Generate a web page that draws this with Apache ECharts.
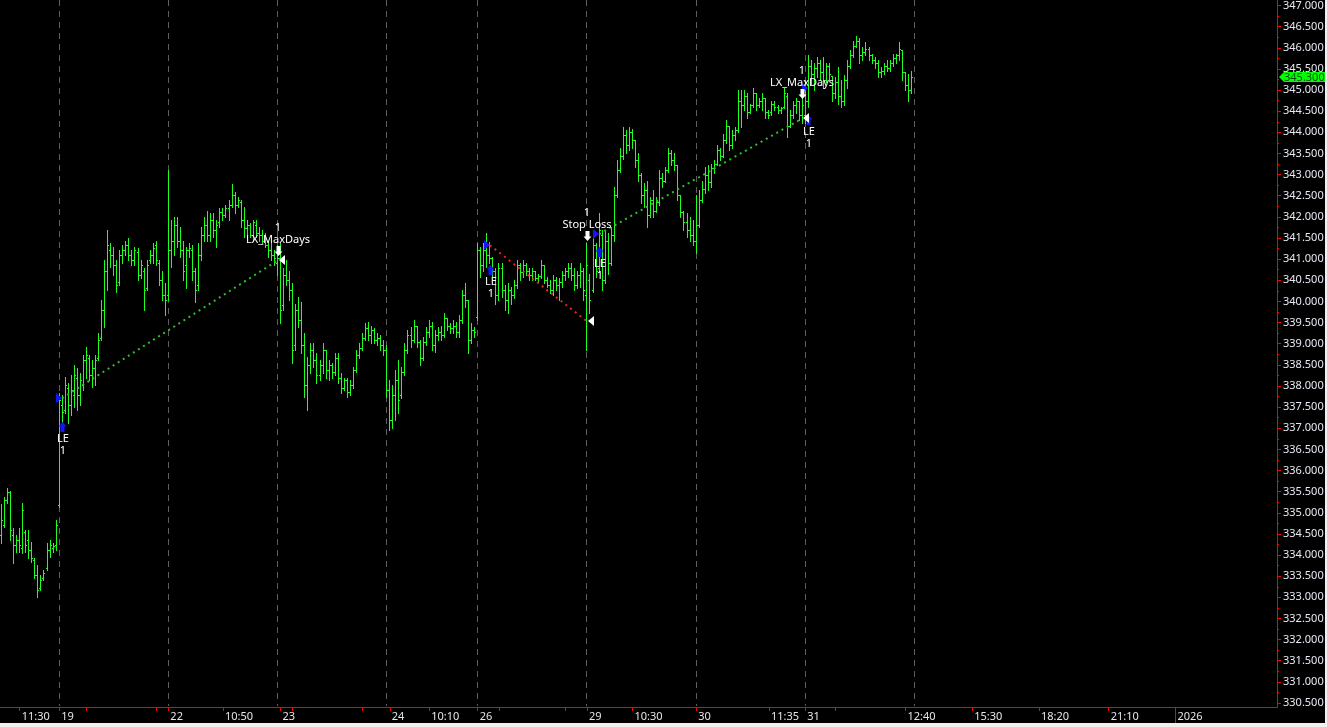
<!DOCTYPE html>
<html><head><meta charset="utf-8">
<script src="https://cdn.jsdelivr.net/npm/echarts@6/dist/echarts.min.js"></script>
<style>html,body{margin:0;padding:0;background:#000;overflow:hidden}#c{width:1327px;height:727px}</style>
</head><body><div id="c"></div>
<script>
// ---- OHLC bars, one small array per session: [open, high, low, close] ----
const pre19 = [
[334.47,335.20,334.28,334.82],[334.71,335.37,334.66,335.30],[335.30,335.58,335.23,335.49],[335.49,335.51,334.35,334.59],
[334.47,334.64,333.81,334.24],[334.24,334.47,334.07,334.35],[334.35,334.64,334.07,334.24],[334.17,335.23,334.05,335.06],
[334.54,334.59,334.07,334.24],[334.35,334.59,333.93,334.12],[334.12,334.31,333.83,333.93],[333.88,333.93,333.45,333.52],
[333.52,333.76,333.00,333.17],[333.22,333.52,333.17,333.41],[333.45,333.64,333.41,333.57],[333.69,334.28,333.64,334.12],
[334.12,334.35,333.95,334.24],[334.17,334.28,334.07,334.21],[334.24,334.82,334.12,334.71]];
const d19 = [
[335.18,337.83,335.13,337.66],[337.54,337.78,337.07,337.38],[337.43,338.21,337.35,338.02],[337.95,338.06,337.12,337.54],
[337.54,338.25,337.31,337.90],[337.78,338.49,337.50,338.25],[338.18,338.42,337.43,337.78],[337.78,338.30,337.54,338.14],
[338.02,338.73,337.90,338.61],[338.61,338.92,338.20,338.73],[338.65,338.73,338.14,338.25],[338.25,338.61,337.97,338.42],
[338.42,338.73,338.02,338.61],[338.65,339.25,338.61,339.08],[339.13,340.03,339.08,339.79],[339.79,340.97,339.39,340.73],
[340.73,341.68,340.26,341.33],[341.21,341.37,340.81,341.09],[341.09,341.28,340.62,340.85],[340.85,340.97,340.22,340.38],
[340.45,341.21,340.38,341.09],[341.09,341.33,340.92,341.21],[341.21,341.44,341.09,341.33],[341.33,341.49,340.97,341.09],
[341.09,341.21,340.85,340.97],[340.97,341.28,340.85,341.21],[341.16,341.26,340.50,340.62],[340.62,340.97,340.55,340.85],
[340.73,340.80,339.79,340.26],[340.31,340.97,340.26,340.85],[340.97,341.21,340.92,341.09],[341.09,341.37,340.92,341.26],
[341.33,341.44,340.85,340.97],[340.92,340.97,340.38,340.50],[340.50,340.73,340.03,340.14],[340.14,340.43,339.67,340.03]];
const d22 = [
[340.14,343.10,340.03,341.21],[341.21,341.92,340.81,341.44],[341.44,341.99,341.09,341.80],[341.80,341.99,341.28,341.44],
[341.44,341.75,341.04,341.21],[341.21,341.44,340.50,340.73],[340.85,341.28,340.31,341.21],[341.21,341.37,341.04,341.26],
[341.21,341.33,340.50,340.73],[340.73,340.80,339.98,340.26],[340.38,341.37,340.26,341.09],[341.09,341.75,340.97,341.56],
[341.56,341.99,341.44,341.80],[341.80,342.15,341.44,341.56],[341.56,342.08,341.44,341.92],[341.92,342.08,341.52,341.68],
[341.68,341.92,341.28,341.80],[341.87,342.20,341.75,342.11],[342.11,342.20,341.92,342.04],[342.04,342.27,341.99,342.20],
[342.20,342.39,341.92,342.27],[342.27,342.77,342.23,342.51],[342.51,342.58,342.08,342.27],[342.27,342.46,342.23,342.39],
[342.34,342.39,341.75,341.92],[341.92,342.23,341.52,341.73],[341.73,341.92,341.52,341.80],[341.80,341.85,341.52,341.56],
[341.56,341.92,341.44,341.87],[341.80,341.92,341.52,341.63],[341.63,341.75,341.44,341.56],[341.56,341.68,341.37,341.44],
[341.44,341.61,341.28,341.33],[341.33,341.44,341.04,341.21],[341.21,341.37,340.97,341.09],[341.09,341.21,340.85,341.02]];
const d23 = [
[340.92,341.33,340.62,341.02],[341.02,341.37,339.48,339.79],[339.91,340.80,339.79,340.62],[340.62,340.97,340.38,340.50],
[340.50,340.73,340.03,340.26],[340.26,340.43,338.54,338.84],[338.96,339.95,338.84,339.79],[339.79,340.10,339.39,339.55],
[339.55,339.98,338.77,338.96],[338.96,339.25,337.73,338.02],[338.02,338.68,337.43,338.49],[338.49,339.01,338.30,338.84],
[338.84,339.01,338.44,338.61],[338.61,338.77,338.06,338.25],[338.25,338.61,338.14,338.49],[338.49,339.01,338.30,338.84],
[338.84,338.84,338.20,338.37],[338.37,338.61,338.14,338.49],[338.49,338.54,338.20,338.33],[338.33,338.77,338.25,338.65],
[338.65,338.77,338.06,338.18],[338.18,338.30,337.83,337.95],[337.95,338.20,337.90,338.14],[338.14,338.18,337.73,337.85],
[337.85,338.14,337.78,338.02],[338.02,338.44,337.95,338.37],[338.37,338.84,338.33,338.73],[338.73,339.01,338.65,338.89],
[338.89,339.25,338.84,339.13],[339.13,339.48,339.08,339.36],[339.36,339.51,339.08,339.20],[339.20,339.43,339.01,339.32],
[339.32,339.36,339.01,339.08],[339.08,339.25,338.96,339.13],[339.13,339.20,338.84,338.96],[338.96,339.08,338.73,338.84]];
const d24 = [
[338.84,338.96,337.73,337.90],[337.90,338.14,336.95,337.19],[337.19,338.02,337.00,337.78],[337.78,338.37,337.19,338.14],
[338.14,338.61,337.35,337.66],[337.78,338.44,337.71,338.33],[338.33,339.01,338.25,338.84],[338.84,339.32,338.77,339.20],
[339.20,339.39,338.92,339.08],[339.08,339.55,339.03,339.43],[339.43,339.43,338.92,339.03],[339.03,339.08,338.49,338.65],
[338.65,339.15,338.61,339.03],[339.03,339.39,338.96,339.27],[339.27,339.55,339.15,339.43],[339.43,339.51,338.84,338.96],
[338.96,339.32,338.80,339.20],[339.20,339.39,339.08,339.27],[339.27,339.43,339.08,339.20],[339.20,339.72,339.15,339.60],
[339.60,339.60,339.32,339.43],[339.43,339.48,339.25,339.36],[339.36,339.55,339.25,339.43],[339.43,339.51,339.15,339.27],
[339.27,339.67,339.15,339.55],[339.55,340.26,339.48,340.14],[340.14,340.43,339.86,340.03],[340.03,340.03,338.77,339.08],
[339.08,339.48,339.01,339.32],[339.32,339.39,339.15,339.27]];
const d26 = [
[339.62,341.37,339.55,341.21],[341.21,341.28,340.57,340.85],[340.85,341.37,340.73,341.21],[341.21,341.61,340.81,341.09],
[341.09,341.40,340.90,341.02],[341.02,341.04,340.57,340.73],[340.73,340.80,339.95,340.14],[340.14,340.90,340.03,340.78],
[340.78,340.90,340.10,340.26],[340.26,340.38,339.79,340.03],[340.03,340.43,339.72,340.26],[340.26,340.33,339.95,340.14],
[340.14,340.50,340.07,340.38],[340.38,340.97,340.31,340.85],[340.85,340.90,340.50,340.69],[340.69,340.97,340.57,340.85],
[340.85,340.90,340.62,340.73],[340.73,340.80,340.50,340.62],[340.62,340.80,340.50,340.73],[340.73,340.73,340.50,340.55],
[340.55,340.66,340.45,340.59],[340.59,340.97,340.55,340.85],[340.85,340.85,340.43,340.50],[340.50,340.57,340.33,340.38],
[340.38,340.50,340.19,340.26],[340.26,340.62,340.14,340.50],[340.50,340.57,340.26,340.38],[340.38,340.55,340.03,340.45],
[340.45,340.73,340.33,340.62],[340.62,340.80,340.50,340.73],[340.73,340.90,340.57,340.78],[340.78,340.90,340.50,340.62],
[340.62,340.80,340.26,340.38],[340.38,340.73,340.31,340.62],[340.62,340.92,340.33,340.73],[340.73,340.80,340.03,340.26]];
const d29 = [
[340.14,341.37,338.84,340.85],[340.50,340.66,339.72,340.03],[340.26,341.61,340.22,341.33],[341.33,341.37,340.57,340.73],
[340.78,342.08,340.69,341.68],[341.56,341.68,340.26,340.50],[340.50,341.68,340.43,341.44],[341.44,341.63,340.66,340.92],
[340.92,341.75,340.85,341.56],[341.56,342.70,341.44,342.51],[342.51,343.34,342.46,343.10],[343.10,343.64,343.05,343.45],
[343.45,344.12,343.38,343.93],[343.93,344.05,343.50,343.69],[343.69,344.12,343.57,344.00],[344.00,344.09,343.64,343.81],
[343.81,343.81,343.17,343.34],[343.34,343.50,342.86,342.98],[342.98,343.03,342.32,342.51],[342.51,342.79,342.23,342.63],
[342.63,342.86,341.75,342.04],[342.04,342.46,341.99,342.39],[342.39,342.63,341.99,342.15],[342.15,342.46,342.11,342.34],
[342.34,343.10,342.27,342.91],[342.91,343.03,342.70,342.86],[342.86,343.17,342.82,343.10],[343.10,343.64,343.05,343.52],
[343.52,343.57,343.22,343.34],[343.34,343.50,343.10,343.22],[343.22,343.22,342.39,342.51],[342.51,342.51,341.99,342.11],
[342.11,342.15,341.68,341.87],[341.87,342.08,341.52,341.68],[341.68,341.99,341.44,341.56],[341.56,341.92,341.33,341.44]];
const d30 = [
[341.44,342.51,341.14,341.80],[341.80,342.63,341.75,342.39],[342.39,342.86,342.34,342.67],[342.67,343.17,342.56,342.98],
[342.98,343.22,342.63,342.82],[342.82,343.26,342.70,343.15],[343.15,343.34,343.03,343.26],[343.26,343.69,343.22,343.57],
[343.57,343.64,343.34,343.45],[343.45,343.97,343.41,343.81],[343.81,344.28,343.74,344.16],[344.16,344.16,343.57,343.69],
[343.69,344.05,343.64,343.93],[343.93,344.12,343.81,344.05],[344.05,344.99,344.00,344.75],[344.75,344.99,344.12,344.64],
[344.64,344.99,344.52,344.87],[344.87,344.92,344.35,344.47],[344.47,344.68,344.45,344.64],[344.64,345.06,344.59,344.94],
[344.94,344.94,344.52,344.64],[344.64,344.82,344.59,344.75],[344.75,344.92,344.52,344.80],[344.80,344.80,344.35,344.47],
[344.47,344.52,344.35,344.42],[344.47,344.75,344.42,344.68],[344.68,344.75,344.52,344.61],[344.61,344.64,344.45,344.52],
[344.52,344.59,344.45,344.57],[344.59,345.06,344.57,344.94],[344.87,344.92,343.88,344.16],[344.16,344.52,344.12,344.40],
[344.40,344.75,344.35,344.64],[344.64,344.82,344.45,344.75],[344.75,344.75,344.28,344.40],[344.40,344.82,344.21,344.64]];
const d31 = [
[344.40,345.23,344.21,344.75],[344.75,345.82,344.59,345.58],[345.58,345.70,345.15,345.39],[345.39,345.63,344.99,345.51],
[345.51,345.77,345.30,345.65],[345.65,345.70,345.23,345.42],[345.42,345.77,345.06,345.23],[345.23,345.65,345.18,345.58],
[345.58,345.65,345.23,345.39],[345.33,345.33,344.75,344.94],[344.94,345.30,344.82,345.18],[345.18,345.54,344.68,344.87],
[344.87,345.23,344.59,344.75],[344.75,345.35,344.64,345.23],[345.23,345.70,345.06,345.58],[345.58,345.94,345.53,345.82],
[345.82,346.17,345.77,346.05],[346.05,346.29,346.01,346.17],[346.17,346.24,345.63,345.82],[345.82,346.01,345.70,345.89],
[345.89,346.13,345.82,345.98],[345.98,346.01,345.70,345.82],[345.82,345.86,345.63,345.70],[345.70,345.77,345.53,345.63],
[345.63,345.70,345.30,345.42],[345.42,345.54,345.30,345.46],[345.46,345.63,345.39,345.56],[345.56,345.70,345.46,345.51],
[345.51,345.70,345.46,345.65],[345.65,345.86,345.58,345.75],[345.75,345.86,345.63,345.82],[345.82,346.13,345.70,345.98],
[345.94,345.94,345.23,345.42],[345.42,345.42,344.99,345.11],[345.11,345.39,344.75,344.99],[344.99,345.46,344.94,345.30]];

// ---- time axis ----
const totalSlots = 421;                 // bar slots incl. empty future space
const tickIdx  = [6, 19, 55, 73, 92, 128, 141, 157, 193, 208, 229, 253, 265, 298, 320, 342, 365, 387];
const tickText = ['11:30','19','22','10:50','23','24','10:10','26','29','10:30','30','11:35','31','12:40','15:30','18:20','21:10','2026'];
const extraTickIdx = [28, 51, 96, 119, 164, 186, 275];
const sessionStartIdx = [19, 55, 91, 127, 157, 193, 229, 265, 301];
const yearIdx = 387;

// ---- trades ----
const entries = [ // [barIndex, entryPrice, arrowPrice]
  [20, 337.71, 337.14], [161, 341.33, 340.85], [197, 341.59, 341.28], [266, 345.04, 344.42]];
const exits = [   // [barIndex, exitPrice, arrowPrice]
  [91, 340.97, 341.07], [193, 339.53, 341.44], [264, 344.33, 344.78]];
const exitNames = ['LX_MaxDays', 'Stop Loss', 'LX_MaxDays'];
const tradeProfit = [1, -1, 1];
const lastPrice = 345.30;

// ---- build ----
const bars = [].concat(pre19, d19, d22, d23, d24, d26, d29, d30, d31);
const cats = [];
for (let i = 0; i < totalSlots; i++) cats.push(String(i));
const labelMap = {};
tickIdx.forEach((ix, k) => { labelMap[ix] = tickText[k]; });
const tickSet = new Set(tickIdx.concat(extraTickIdx));
const FONT = '11px "Noto Sans", "DejaVu Sans", sans-serif';

const chart = echarts.init(document.getElementById('c'), null, {renderer: 'canvas'});

const tradeLineSeries = exits.map((ex, k) => ({
  type: 'line', silent: true, z: 5, symbol: 'none', animation: false,
  data: [[entries[k][0], entries[k][1]], [ex[0], ex[1]]],
  lineStyle: {color: tradeProfit[k] > 0 ? '#33bb33' : '#f02020', width: 2, type: [2, 4]}
}));

const option = {
  backgroundColor: '#000000',
  animation: false,
  grid: {left: 0, right: 50, top: 5, bottom: 24},
  xAxis: {
    type: 'category', data: cats, boundaryGap: true, offset: 4,
    axisLine: {show: true, lineStyle: {color: '#ff0000', width: 1}},
    axisTick: {show: true, alignWithLabel: true, length: 4, interval: (i) => tickSet.has(i), lineStyle: {color: '#ff0000'}},
    axisLabel: {
      interval: (i) => labelMap[i] !== undefined, formatter: (v, i) => labelMap[i] || '',
      align: 'left', padding: [0, 0, 0, 2], margin: 4, color: '#e6e6e6', fontSize: 11,
      fontFamily: '"Noto Sans", "DejaVu Sans", sans-serif'
    },
    splitLine: {show: false}
  },
  yAxis: {
    type: 'value', position: 'right', min: 330.5, max: 347, interval: 0.5, scale: true,
    axisLine: {show: false},
    axisTick: {show: true, length: 4, lineStyle: {color: '#ff0000'}},
    minorTick: {show: true, splitNumber: 2, length: 2, lineStyle: {color: '#ff0000'}},
    axisLabel: {formatter: (v) => v.toFixed(3), color: '#e8e8f4', fontSize: 11, margin: 6,
      fontFamily: '"Noto Sans", "DejaVu Sans", sans-serif'},
    splitLine: {show: false}
  },
  series: [
    { // session separators
      type: 'custom', silent: true, z: 1, clip: false,
      data: sessionStartIdx.map(i => [i, 340]),
      encode: {x: 0, y: 1},
      renderItem: (params, api) => {
        const x = Math.floor(api.coord([api.value(0), 340])[0]) + 0.5;
        return {type: 'line', shape: {x1: x, y1: 0, x2: x, y2: 706},
          style: {stroke: '#5e5e5e', lineWidth: 1, lineDash: [6, 5]}};
      }
    },
    { // OHLC bars
      type: 'custom', silent: true, z: 3,
      data: bars.map((b, i) => [i, b[0], b[1], b[2], b[3]]),
      encode: {x: 0, y: [1, 2, 3, 4]},
      renderItem: (params, api) => {
        const i = api.value(0);
        const po = api.coord([i, api.value(1)]);
        const ph = api.coord([i, api.value(2)]);
        const pl = api.coord([i, api.value(3)]);
        const pc = api.coord([i, api.value(4)]);
        const x = Math.floor(po[0]) + 0.5;
        const yo = Math.round(po[1]) + 0.5, yc = Math.round(pc[1]) + 0.5;
        const st = {stroke: '#1eff1e', lineWidth: 1};
        return {type: 'group', children: [
          {type: 'line', shape: {x1: x, y1: Math.round(ph[1]), x2: x, y2: Math.round(pl[1]) + 1}, style: st},
          {type: 'line', shape: {x1: x - 1.5, y1: yo, x2: x - 0.5, y2: yo}, style: st},
          {type: 'line', shape: {x1: x + 0.5, y1: yc, x2: x + 1.5, y2: yc}, style: st}
        ]};
      }
    },
    ...tradeLineSeries,
    { // entry markers
      type: 'custom', silent: true, z: 8, clip: false,
      data: entries,
      encode: {x: 0, y: [1, 2]},
      renderItem: (params, api) => {
        const p = api.coord([api.value(0), api.value(1)]);
        const a = api.coord([api.value(0), api.value(2)]);
        const bx = Math.round(p[0]), py = Math.round(p[1]), top = Math.round(a[1]);
        const blue = '#1414ff';
        return {type: 'group', children: [
          {type: 'polygon', shape: {points: [[bx, py], [bx - 6, py - 5], [bx - 6, py + 5]]}, style: {fill: blue}},
          {type: 'polygon', shape: {points: [[bx + 0.5, top], [bx + 4.5, top + 4.5], [bx + 2.5, top + 4.5], [bx + 2.5, top + 10],
            [bx - 1.5, top + 10], [bx - 1.5, top + 4.5], [bx - 3.5, top + 4.5]]}, style: {fill: blue}},
          {type: 'text', style: {text: 'LE', x: bx + 1, y: top + 17, align: 'center', verticalAlign: 'middle', fill: '#ffffff', font: FONT}},
          {type: 'text', style: {text: '1', x: bx + 1, y: top + 29, align: 'center', verticalAlign: 'middle', fill: '#ffffff', font: FONT}}
        ]};
      }
    },
    { // exit markers
      type: 'custom', silent: true, z: 8, clip: false,
      data: exits,
      encode: {x: 0, y: [1, 2]},
      renderItem: (params, api) => {
        const p = api.coord([api.value(0), api.value(1)]);
        const a = api.coord([api.value(0), api.value(2)]);
        const bx = Math.round(p[0]), py = Math.round(p[1]), bot = Math.round(a[1]);
        const w = '#ffffff';
        return {type: 'group', children: [
          {type: 'polygon', shape: {points: [[bx + 1, py], [bx + 7, py - 5], [bx + 7, py + 5]]}, style: {fill: w}},
          {type: 'polygon', shape: {points: [[bx + 0.5, bot], [bx + 4.5, bot - 4.5], [bx + 2.5, bot - 4.5], [bx + 2.5, bot - 10],
            [bx - 1.5, bot - 10], [bx - 1.5, bot - 4.5], [bx - 3.5, bot - 4.5]]}, style: {fill: w}},
          {type: 'text', style: {text: exitNames[params.dataIndex], x: bx, y: bot - 16, align: 'center', verticalAlign: 'middle', fill: '#ffffff', font: FONT}},
          {type: 'text', style: {text: '1', x: bx, y: bot - 28, align: 'center', verticalAlign: 'middle', fill: '#ffffff', font: FONT}}
        ]};
      }
    }
  ]
};
chart.setOption(option);

// axis frame, year marker, price tag and window edges
const yLast = Math.round(chart.convertToPixel({yAxisIndex: 0}, lastPrice));
const xYear = Math.floor(chart.convertToPixel({xAxisIndex: 0}, yearIdx)) + 0.5;
chart.setOption({
  graphic: [
    {type: 'line', silent: true, z: 20, shape: {x1: 1277.5, y1: 0, x2: 1277.5, y2: 707.5}, style: {stroke: '#ff0000', lineWidth: 1}},
    {type: 'line', silent: true, z: 20, shape: {x1: xYear, y1: 707, x2: xYear, y2: 723}, style: {stroke: '#ff0000', lineWidth: 1}},
    {type: 'polygon', silent: true, z: 21, shape: {points: [[1279, yLast], [1284, yLast - 5], [1326, yLast - 5], [1326, yLast + 5], [1284, yLast + 5]]}, style: {fill: '#00ff00'}},
    {type: 'text', silent: true, z: 22, style: {text: lastPrice.toFixed(3), x: 1284, y: yLast + 0.5, verticalAlign: 'middle', fill: '#0b4a0b', font: FONT}},
    {type: 'rect', silent: true, z: 30, shape: {x: 0, y: 723, width: 1327, height: 4}, style: {fill: '#f0f0f0'}},
    {type: 'rect', silent: true, z: 30, shape: {x: 1325, y: 0, width: 2, height: 727}, style: {fill: '#f0f0f0'}}
  ]
});
</script>
</body></html>
